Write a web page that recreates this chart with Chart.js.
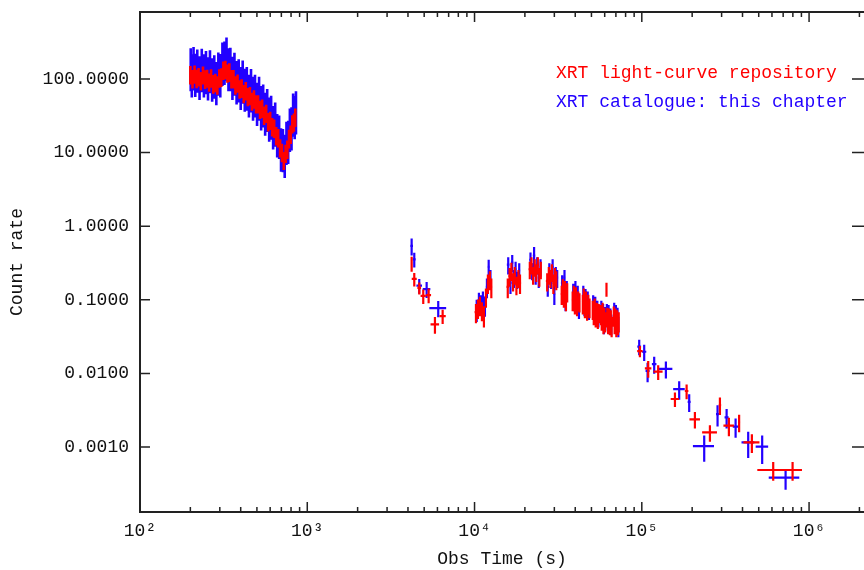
<!DOCTYPE html>
<html>
<head>
<meta charset="utf-8">
<title>XRT light curve</title>
<script src="https://cdn.jsdelivr.net/npm/chart.js@4.4.1/dist/chart.umd.min.js"></script>
<style>
  html, body { margin: 0; padding: 0; background: #fff; }
  canvas { display: block; }
</style>
</head>
<body>
<canvas id="lc" width="864" height="570"></canvas>
<script>
// series names (legend)
const redName = 'XRT light-curve repository';
const blueName = 'XRT catalogue: this chapter';

// axis ticks
const xTickValues = [1e2, 1e3, 1e4, 1e5, 1e6];
const xTickLabels = ['10²', '10³', '10⁴', '10⁵', '10⁶'];
const yTickValues = [0.001, 0.01, 0.1, 1, 10, 100];
const yTickLabels = ['0.0010', '0.0100', '0.1000', '1.0000', '10.0000', '100.0000'];

// WT mode (early, dense) - time (s), rate, rate error
const wtTimeErr = 1.5;
const redWtTime = [200, 206, 212, 218, 224, 231, 238, 245, 252, 259, 266, 274, 282, 290, 298, 306, 315, 324, 333, 342,
  352, 362, 372, 383, 394, 405, 417, 429, 441, 454, 467, 480, 494, 508, 522, 537, 552, 568, 584, 600,
  617, 634, 652, 670, 688, 706, 724, 742, 760, 778, 796, 814, 832, 848];
const redWtRate = [117, 103, 119, 104, 110, 97, 116, 102, 105, 93, 106, 88, 92, 85, 106, 109, 135, 138, 123, 127,
  103, 103, 85, 90, 75, 77, 65, 71, 59, 61, 51, 55, 47, 47, 39.5, 41, 33, 35, 27, 28,
  23, 22, 17.4, 16.3, 11.9, 10.3, 8.0, 10.0, 11.4, 15.9, 18.2, 25.2, 26.6, 31];
const redWtErr = [33, 29, 33, 29, 31, 27, 32, 29, 29, 26, 30, 25, 26, 24, 30, 31, 38, 39, 34, 36,
  29, 29, 24, 25, 21, 22, 18, 20, 16.5, 17, 14, 15.5, 13, 13, 11, 11.5, 9.2, 9.8, 7.6, 7.8,
  6.4, 6.2, 4.9, 4.6, 3.3, 2.9, 2.2, 2.8, 3.2, 4.5, 5.1, 7, 7.4, 8.7];

const blueWtTime = [201, 204, 209, 214, 220, 227, 234, 241, 248, 255, 262, 270, 278, 286, 294, 302, 311, 320, 329, 338,
  347, 357, 367, 378, 389, 400, 411, 423, 435, 448, 461, 474, 487, 501, 515, 530, 545, 560, 576, 592,
  608, 625, 643, 661, 679, 697, 715, 733, 751, 769, 787, 805, 823, 841, 856];
const blueWtRate = [165, 136, 171, 139, 158, 128, 162, 136, 151, 124, 155, 120, 132, 107, 144, 137, 196, 203, 230, 165,
  167, 126, 143, 110, 117, 92, 112, 87, 91, 72, 86, 67, 72, 56, 67, 50, 53, 41, 46, 35,
  37, 27, 30, 21, 20, 13.5, 13.2, 11, 16.5, 17, 25, 26, 40, 37, 43];
const blueWtErr = [97, 80, 101, 82, 93, 76, 96, 80, 89, 73, 91, 71, 78, 63, 85, 81, 116, 120, 136, 97,
  99, 74, 84, 65, 69, 54, 66, 51, 54, 42, 51, 40, 42, 33, 40, 30, 31, 24, 27, 21,
  22, 16, 18, 12.4, 11.8, 8, 7.8, 6.5, 9.7, 10, 14.8, 15.3, 23.6, 21.8, 25.4];

// PC mode - time (s), time half-width, rate, rate error
const redPcTime = [4207, 4362, 4672, 4936, 5317, 5798, 6447,
  10200, 10480, 10770, 11070, 11380, 11700, 12020, 12360, 12600,
  15800, 16200, 16600, 17000, 17400, 17800, 18300, 18700,
  21400, 21900, 22400, 22900, 23400, 23900, 24400, 24900,
  27200, 27800, 28400, 29000, 29600, 30200, 30800,
  33200, 33700, 34200, 34700, 35200, 35800,
  38600, 39200, 39800, 40400, 41000, 41700, 42400,
  44400, 45000, 45700, 46400, 47100, 47900, 48700,
  50900, 51600, 52300, 53000, 53800, 54600, 55300,
  57000, 57600, 58300, 59000, 59700, 60400,
  61500, 62200, 62900, 63700, 64500, 65300, 66000,
  68000, 68800, 69600, 70400, 71200, 72000, 72800,
  97430, 109200, 125300, 157800, 185300, 207700, 255400, 293100, 331600, 381800, 455000, 610400, 796900];
const redPcTimeErr = [60, 150, 120, 180, 180, 340, 280,
  200, 200, 200, 200, 200, 200, 200, 200, 200,
  300, 300, 300, 300, 300, 300, 300, 300,
  400, 400, 400, 400, 400, 400, 400, 400,
  500, 500, 500, 500, 500, 500, 500,
  550, 550, 550, 550, 550, 550,
  600, 600, 600, 600, 600, 600, 600,
  650, 650, 650, 650, 650, 650, 650,
  700, 700, 700, 700, 700, 700, 700,
  750, 750, 750, 750, 750, 750,
  800, 800, 800, 800, 800, 800, 800,
  850, 850, 850, 850, 850, 850, 850,
  3600, 4900, 7800, 9000, 4500, 15000, 26000, 5000, 24000, 6000, 50000, 120000, 110000];
const redPcRate = [0.313, 0.192, 0.145, 0.113, 0.116, 0.0465, 0.06,
  0.068, 0.078, 0.085, 0.072, 0.062, 0.11, 0.17, 0.19, 0.15,
  0.15, 0.21, 0.25, 0.18, 0.22, 0.16, 0.2, 0.17,
  0.26, 0.3, 0.22, 0.28, 0.24, 0.3, 0.21, 0.26,
  0.18, 0.22, 0.2, 0.24, 0.17, 0.21, 0.19,
  0.12, 0.15, 0.11, 0.14, 0.1, 0.13,
  0.1, 0.12, 0.09, 0.115, 0.085, 0.1, 0.095,
  0.09, 0.11, 0.08, 0.1, 0.075, 0.09, 0.08,
  0.075, 0.065, 0.08, 0.06, 0.07, 0.058, 0.068,
  0.065, 0.055, 0.07, 0.05, 0.06, 0.052,
  0.14, 0.06, 0.05, 0.058, 0.048, 0.055, 0.045,
  0.062, 0.05, 0.058, 0.046, 0.055, 0.048, 0.052,
  0.0201, 0.0117, 0.01055, 0.00449, 0.00577, 0.00238, 0.00158, 0.00372, 0.00195, 0.00217, 0.00116, 0.000487, 0.000487];
const redPcErr = [0.072, 0.04, 0.027, 0.025, 0.026, 0.012, 0.013,
  0.02, 0.023, 0.025, 0.021, 0.02, 0.032, 0.05, 0.055, 0.045,
  0.045, 0.06, 0.07, 0.05, 0.06, 0.045, 0.055, 0.05,
  0.07, 0.08, 0.06, 0.075, 0.065, 0.08, 0.06, 0.07,
  0.05, 0.06, 0.055, 0.065, 0.05, 0.06, 0.055,
  0.035, 0.04, 0.032, 0.04, 0.03, 0.038,
  0.03, 0.035, 0.027, 0.033, 0.025, 0.03, 0.028,
  0.027, 0.032, 0.024, 0.03, 0.023, 0.027, 0.024,
  0.022, 0.02, 0.024, 0.018, 0.021, 0.018, 0.02,
  0.02, 0.017, 0.021, 0.016, 0.018, 0.016,
  0.03, 0.018, 0.016, 0.018, 0.015, 0.017, 0.014,
  0.019, 0.016, 0.018, 0.015, 0.017, 0.015, 0.016,
  0.0035, 0.003, 0.0024, 0.001, 0.0013, 0.0006, 0.0004, 0.001, 0.00055, 0.00058, 0.00033, 0.00014, 0.00014];

const bluePcTime = [4207, 4362, 4672, 5172, 6067,
  10300, 10620, 10920, 11220, 11540, 11860, 12150, 12450,
  15900, 16400, 16800, 17200, 17600, 18000, 18500,
  21600, 22100, 22700, 23200, 23700, 24200, 24800,
  27400, 28000, 28700, 29300, 30000, 30600, 31200,
  33400, 34000, 34500, 35000, 35600,
  38900, 39500, 40100, 40800, 41400, 42100,
  44700, 45400, 46100, 46800, 47500, 48300,
  51200, 51900, 52700, 53400, 54200, 55000,
  57300, 58000, 58700, 59400, 60100,
  61800, 62600, 63300, 64100, 64900, 65700,
  68400, 69200, 70000, 70800, 71600, 72400,
  96500, 103350, 108300, 118600, 139300, 167300, 192000, 236100, 283700, 321400, 363700, 432600, 524400, 723800];
const bluePcTimeErr = [80, 90, 180, 270, 700,
  200, 200, 200, 200, 200, 200, 200, 200,
  300, 300, 300, 300, 300, 300, 300,
  400, 400, 400, 400, 400, 400, 400,
  500, 500, 500, 500, 500, 500, 500,
  550, 550, 550, 550, 550,
  600, 600, 600, 600, 600, 600,
  650, 650, 650, 650, 650, 650,
  700, 700, 700, 700, 700, 700,
  750, 750, 750, 750, 750,
  800, 800, 800, 800, 800, 800,
  850, 850, 850, 850, 850, 850,
  2500, 3000, 3000, 3700, 13000, 13300, 4000, 34000, 6000, 9000, 14000, 38000, 45000, 150000];
const bluePcRate = [0.54, 0.355, 0.156, 0.14, 0.077,
  0.075, 0.095, 0.088, 0.1, 0.085, 0.15, 0.28, 0.2,
  0.3, 0.17, 0.32, 0.2, 0.26, 0.19, 0.25,
  0.35, 0.25, 0.4, 0.22, 0.3, 0.2, 0.28,
  0.15, 0.25, 0.19, 0.28, 0.12, 0.22, 0.2,
  0.17, 0.12, 0.2, 0.1, 0.14,
  0.13, 0.1, 0.14, 0.09, 0.12, 0.08,
  0.12, 0.085, 0.11, 0.09, 0.1, 0.075,
  0.09, 0.07, 0.085, 0.065, 0.075, 0.06,
  0.075, 0.058, 0.068, 0.05, 0.062,
  0.068, 0.055, 0.065, 0.05, 0.058, 0.048,
  0.07, 0.055, 0.065, 0.05, 0.06, 0.045,
  0.0231, 0.0197, 0.0108, 0.0134, 0.0115, 0.0061, 0.0041, 0.00103, 0.0028, 0.00253, 0.00189, 0.00116, 0.00101, 0.000383];
const bluePcErr = [0.14, 0.08, 0.035, 0.034, 0.019,
  0.025, 0.03, 0.027, 0.03, 0.026, 0.045, 0.07, 0.055,
  0.08, 0.05, 0.085, 0.055, 0.07, 0.05, 0.065,
  0.09, 0.065, 0.12, 0.06, 0.08, 0.055, 0.075,
  0.04, 0.065, 0.05, 0.075, 0.035, 0.06, 0.055,
  0.045, 0.035, 0.055, 0.03, 0.04,
  0.035, 0.03, 0.04, 0.025, 0.035, 0.025,
  0.035, 0.025, 0.03, 0.025, 0.03, 0.022,
  0.025, 0.02, 0.025, 0.02, 0.022, 0.018,
  0.022, 0.018, 0.02, 0.016, 0.018,
  0.02, 0.017, 0.02, 0.016, 0.018, 0.015,
  0.021, 0.017, 0.02, 0.016, 0.018, 0.014,
  0.0055, 0.0049, 0.0032, 0.0035, 0.003, 0.0017, 0.0011, 0.0004, 0.0009, 0.00075, 0.00055, 0.00045, 0.00042, 0.00012];

const RED = '#ff0000';
const BLUE = '#2200ff';
const FONT = 'Liberation Mono';

function points(time, timeErr, rate, rateErr) {
  return time.map((t, i) => ({
    x: t, y: rate[i],
    xErr: Array.isArray(timeErr) ? timeErr[i] : timeErr,
    yErr: rateErr[i]
  }));
}

// crosses: one vertical bar for the rate error, one horizontal for the bin
const errorBars = {
  id: 'errorBars',
  afterDatasetsDraw(chart) {
    const { ctx, chartArea: a, scales: { x, y } } = chart;
    ctx.save();
    ctx.beginPath();
    ctx.rect(a.left, a.top, a.right - a.left, a.bottom - a.top);
    ctx.clip();
    chart.data.datasets.forEach(ds => {
      ctx.strokeStyle = ds.borderColor;
      ctx.lineWidth = ds.barWidth;
      ctx.beginPath();
      ds.data.forEach(p => {
        const px = x.getPixelForValue(p.x);
        const py = y.getPixelForValue(p.y);
        const lo = Math.max(p.y - p.yErr, 1e-6);
        ctx.moveTo(px, y.getPixelForValue(lo));
        ctx.lineTo(px, y.getPixelForValue(p.y + p.yErr));
        ctx.moveTo(x.getPixelForValue(p.x - p.xErr), py);
        ctx.lineTo(x.getPixelForValue(p.x + p.xErr), py);
      });
      ctx.stroke();
    });
    ctx.restore();
  }
};

// box (right edge falls off the canvas), inward ticks and the text legend
const frame = {
  id: 'frame',
  afterDraw(chart) {
    const { ctx, chartArea: a, scales: { x, y } } = chart;
    ctx.save();
    ctx.strokeStyle = '#222';
    ctx.lineWidth = 2;
    ctx.beginPath();
    ctx.moveTo(a.right + 2, a.top); ctx.lineTo(a.left, a.top);
    ctx.lineTo(a.left, a.bottom); ctx.lineTo(a.right + 2, a.bottom);
    ctx.stroke();
    ctx.lineWidth = 1.5;
    ctx.beginPath();
    x.ticks.forEach(t => {
      const px = x.getPixelForValue(t.value);
      const len = xTickValues.includes(t.value) ? 10 : 5;
      ctx.moveTo(px, a.bottom); ctx.lineTo(px, a.bottom - len);
      ctx.moveTo(px, a.top); ctx.lineTo(px, a.top + len);
    });
    y.ticks.forEach(t => {
      const py = y.getPixelForValue(t.value);
      ctx.moveTo(a.left, py); ctx.lineTo(a.left + 10, py);
      ctx.moveTo(a.right, py); ctx.lineTo(a.right - 12, py);
    });
    ctx.stroke();

    ctx.font = '18px "' + FONT + '"';
    ctx.textBaseline = 'middle';
    ctx.textAlign = 'left';
    ctx.fillStyle = RED;
    ctx.fillText(redName, 556, 73);
    ctx.fillStyle = BLUE;
    ctx.fillText(blueName, 556, 102);
    ctx.restore();
  }
};

const ctx = document.getElementById('lc').getContext('2d');
new Chart(ctx, {
  type: 'scatter',
  data: {
    datasets: [
      { label: blueName, data: points(blueWtTime, wtTimeErr, blueWtRate, blueWtErr), borderColor: BLUE, barWidth: 2.6 },
      { label: blueName, data: points(bluePcTime, bluePcTimeErr, bluePcRate, bluePcErr), borderColor: BLUE, barWidth: 2.2 },
      { label: redName, data: points(redWtTime, wtTimeErr, redWtRate, redWtErr), borderColor: RED, barWidth: 2.6 },
      { label: redName, data: points(redPcTime, redPcTimeErr, redPcRate, redPcErr), borderColor: RED, barWidth: 2.2 }
    ]
  },
  options: {
    responsive: false,
    animation: false,
    devicePixelRatio: 1,
    layout: { autoPadding: false, padding: { top: 12, right: 0, bottom: 0, left: 0 } },
    elements: { point: { radius: 0, hoverRadius: 0 } },
    plugins: { legend: { display: false }, tooltip: { enabled: false } },
    scales: {
      x: {
        type: 'logarithmic',
        min: 100,
        max: 2.13e6,
        afterBuildTicks: s => {
          const ticks = [];
          xTickValues.forEach(d => {
            for (let k = 1; k < 10; k++) if (d * k <= s.max) ticks.push({ value: d * k });
          });
          s.ticks = ticks;
        },
        afterFit: s => { s.height = 58; s.paddingLeft = 0; s.paddingRight = 0; },
        grid: { display: false, drawTicks: false },
        border: { display: false },
        ticks: {
          autoSkip: false, maxRotation: 0, minRotation: 0, padding: 8,
          color: '#111', font: { family: FONT, size: 18 },
          callback: v => {
            const i = xTickValues.indexOf(v);
            return i >= 0 ? xTickLabels[i] : '';
          }
        },
        title: { display: true, text: 'Obs Time (s)', color: '#111', font: { family: FONT, size: 18 }, padding: { top: 0, bottom: 0 } }
      },
      y: {
        type: 'logarithmic',
        min: 1.31e-4,
        max: 813,
        afterBuildTicks: s => { s.ticks = yTickValues.map(v => ({ value: v })); },
        afterFit: s => { s.width = 140; s.paddingTop = 0; s.paddingBottom = 0; },
        grid: { display: false, drawTicks: false },
        border: { display: false },
        ticks: {
          autoSkip: false, padding: 11,
          color: '#111', font: { family: FONT, size: 18 },
          callback: v => {
            const i = yTickValues.indexOf(v);
            return i >= 0 ? yTickLabels[i] : '';
          }
        },
        title: { display: true, text: 'Count rate', color: '#111', font: { family: FONT, size: 18 }, padding: { top: 6, bottom: 0 } }
      }
    }
  },
  plugins: [errorBars, frame]
});
</script>
</body>
</html>
